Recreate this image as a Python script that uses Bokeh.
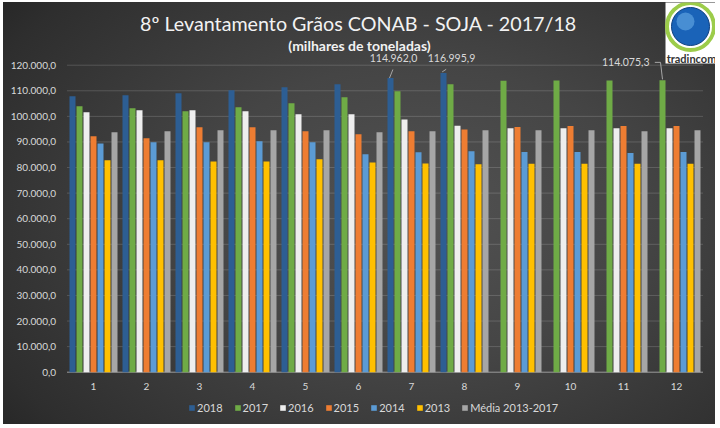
from bokeh.plotting import figure
from bokeh.models import (Range1d, ColumnDataSource, Legend, LegendItem, Label)
from bokeh.core.properties import value
from bokeh.embed import file_html
from bokeh.resources import INLINE

# ---------------- data (milhares de toneladas) ----------------
months = list(range(1, 13))
month_labels = [str(m) for m in months]
series_names = ["2018", "2017", "2016", "2015", "2014", "2013", "Média 2013-2017"]
nan = float("nan")
s2018 = [107900, 108300, 109000, 110200, 111400, 112600, 114962.0, 116995.9, nan, nan, nan, nan]
s2017 = [104000, 103200, 102000, 103600, 105100, 107500, 109800, 112600, 113900, 114000, 114050, 114075.3]
s2016 = [101600, 102400, 102400, 102000, 100800, 100800, 98800, 96300, 95400, 95400, 95400, 95400]
s2015 = [92200, 91400, 95700, 95700, 94200, 93000, 94200, 94900, 95800, 96200, 96200, 96200]
s2014 = [89400, 89900, 89900, 90300, 89900, 85200, 86000, 86400, 86100, 86100, 85700, 86100]
s2013 = [82800, 82800, 82400, 82400, 83200, 82000, 81600, 81300, 81500, 81500, 81500, 81500]
media = [93800, 94200, 94600, 94600, 94600, 93800, 94200, 94600, 94600, 94600, 94200, 94600]
y_ticks = list(range(0, 120001, 10000))
labeled_points = [("2018", 7), ("2018", 8), ("2017", 12)]

title_text = "8º Levantamento Grãos CONAB - SOJA - 2017/18"
subtitle_text = "(milhares de toneladas)"
logo_text = "tradincom"

series = [s2018, s2017, s2016, s2015, s2014, s2013, media]
colors = ["#2d5e93", "#6fab46", "#eeeeee", "#ee7d32", "#5b9bd5", "#ffc000", "#a6a6a6"]

# ---------------- layout ----------------
FONT = "Lato"
TXT = "#d9d9d9"
OX, OY = 3, 2                 # figure offset on the page (css margin)
W, H = 712, 422
CAT_PX = 53.0                 # pixels per category
PXY = 2.5583 / 1000.0         # pixels per thousand tonnes
cat1_px = 93 - OX             # figure column of category 1
zero_py = 371.7 - OY          # figure row of value 0
x_start = 1 - cat1_px / CAT_PX
x_end = x_start + W / CAT_PX
y_end = zero_py / PXY
y_start = -(H - zero_py) / PXY


def ax(abs_px):
    return x_start + (abs_px - OX) / CAT_PX


def ay(abs_py):
    return (zero_py - (abs_py - OY)) / PXY


p = figure(width=W, height=H, x_range=Range1d(x_start, x_end), y_range=Range1d(y_start, y_end),
           output_backend="svg", toolbar_location=None,
           min_border_left=0, min_border_right=0, min_border_top=0, min_border_bottom=0)
p.background_fill_color = None
p.border_fill_color = None
p.outline_line_color = None
p.styles = {
    "background": "radial-gradient(ellipse 78% 88% at 58% 50%, #525252 0%, #454545 40%, #2e2e2e 85%, #232323 100%)",
    "margin-left": f"{OX}px",
    "margin-top": f"{OY}px",
}
p.xaxis.visible = False
p.yaxis.visible = False
p.xgrid.grid_line_color = None
p.ygrid.grid_line_color = None


def fmt_br(v):
    s = f"{v:,.1f}"
    return s.replace(",", "X").replace(".", ",").replace("X", ".")


x_lo = months[0] - 0.5
x_hi = months[-1] + 0.5

# gridlines
grid_vals = y_ticks[1:]
p.segment(x0=[x_lo] * len(grid_vals), x1=[x_hi] * len(grid_vals), y0=grid_vals, y1=grid_vals,
          line_color="#ffffff", line_alpha=0.16, line_width=1)

# value-axis labels
p.text(x=[x_lo] * len(y_ticks), y=y_ticks, text=[fmt_br(t) for t in y_ticks], x_offset=-11,
       text_align="right", text_baseline="middle", text_color=TXT,
       text_font=value(FONT), text_font_size="10px")

# category axis line and labels
p.segment(x0=[x_lo], x1=[x_hi], y0=[0], y1=[0], line_color="#9a9a9a", line_width=1)
p.text(x=months, y=[0] * len(months), text=month_labels, y_offset=14,
       text_align="center", text_baseline="middle", text_color=TXT,
       text_font=value(FONT), text_font_size="10px")

# bars
step = 7.0 / CAT_PX
bw = 6.0 / CAT_PX
n = len(series_names)
renderers = {}
for i, (name, vals, col) in enumerate(zip(series_names, series, colors)):
    off = (i - (n - 1) / 2) * step
    src = ColumnDataSource(dict(x=[m + off for m in months], top=vals))
    renderers[name] = p.vbar(x="x", top="top", bottom=0, width=bw, source=src,
                             fill_color=col, line_color=None)

# data labels with leader lines
lab_cfg = [  # pixel offsets: label (dx, dy, align), leader polyline
    (3, -20, "center", [(-1, 0), (2.4, -8.6)]),
    (8, -15, "center", [(-1.3, -1), (2.7, -3.6)]),
    (-13, -18, "right", [(0, -1), (-2, -18), (-7.7, -18)]),
]
lx, ly, lt, lxo, lyo, lal = [], [], [], [], [], []
lines_x, lines_y = [], []
for (name, m), (dx, dy, al, poly) in zip(labeled_points, lab_cfg):
    i = series_names.index(name)
    off = (i - (n - 1) / 2) * step
    xv = m + off
    yv = series[i][months.index(m)]
    lx.append(xv); ly.append(yv); lt.append(fmt_br(yv))
    lxo.append(dx); lyo.append(dy); lal.append(al)
    lines_x.append([xv + px / CAT_PX for px, _ in poly])
    lines_y.append([yv - py / PXY for _, py in poly])

p.multi_line(xs=lines_x, ys=lines_y, line_color="#a6a6a6", line_width=1)
p.text(x="x", y="y", text="t", x_offset="xo", y_offset="yo", text_align="al",
       source=ColumnDataSource(dict(x=lx, y=ly, t=lt, xo=lxo, yo=lyo, al=lal)),
       text_baseline="middle", text_color=TXT, text_font=value(FONT), text_font_size="10.5px")

# titles
p.add_layout(Label(x=ax(358), y=ay(23), text=title_text, text_align="center",
                   text_baseline="middle", text_color="#f2f2f2", text_font=FONT,
                   text_font_size="19.7px"))
p.add_layout(Label(x=ax(359), y=ay(45), text=subtitle_text, text_align="center",
                   text_baseline="middle", text_color="#f2f2f2", text_font=FONT,
                   text_font_size="14px", text_font_style="bold"))

# logo
p.quad(left=[ax(665)], right=[ax(720)], top=[ay(-2)], bottom=[ay(63)],
       fill_color="#ffffff", line_color=None)
p.scatter(x=[ax(690)], y=[ay(26)], size=47, marker="circle", fill_color=None,
          line_color="#9ccc4a", line_width=4)
p.scatter(x=[ax(690)], y=[ay(26)], size=38, marker="circle", fill_color="#1a63b8",
          line_color="#0d3f80", line_width=1)
p.scatter(x=[ax(685)], y=[ay(21)], size=18, marker="circle", fill_color="#6fb3ea",
          fill_alpha=0.55, line_color=None)
p.text(x=[ax(691)], y=[ay(58)], text=[logo_text], text_align="center",
       text_baseline="middle", text_color="#333333", text_font=value(FONT),
       text_font_size="11px", text_font_style="bold")

# legend
legend = Legend(items=[LegendItem(label=nm, renderers=[renderers[nm]]) for nm in series_names],
                orientation="horizontal", location=(185, 10))
legend.background_fill_alpha = 0
legend.border_line_color = None
legend.label_text_color = TXT
legend.label_text_font = FONT
legend.label_text_font_size = "11px"
legend.glyph_width = 7
legend.glyph_height = 7
legend.label_standoff = 2
legend.spacing = 11
legend.padding = 2
legend.margin = 0
legend.label_height = 14
p.add_layout(legend)

open("out.html", "w").write(file_html(p, INLINE))
